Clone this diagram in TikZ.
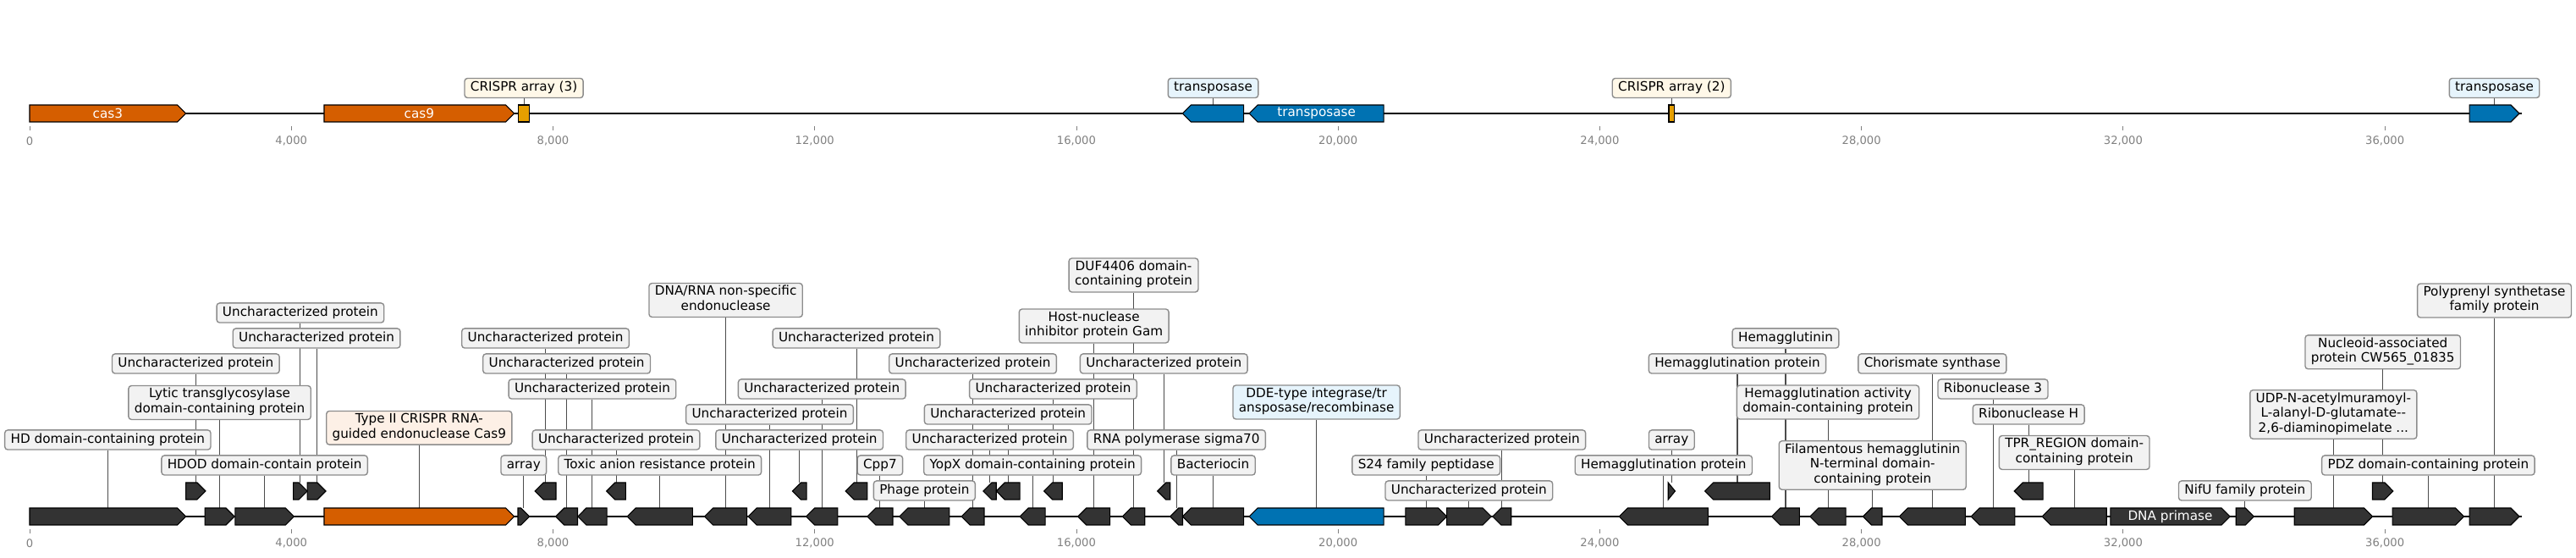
\documentclass[tikz,border=0pt]{standalone}
\usepackage{fontspec}
\setmainfont{DejaVu Sans}
\usetikzlibrary{backgrounds}
\definecolor{genedark}{RGB}{51,51,51}
\definecolor{casorange}{RGB}{213,94,0}
\definecolor{tnpblue}{RGB}{0,114,178}
\definecolor{arraygold}{RGB}{230,159,0}
\definecolor{boxgray}{RGB}{242,242,242}
\definecolor{boxcas}{RGB}{253,240,230}
\definecolor{boxtnp}{RGB}{230,244,252}
\definecolor{boxarray}{RGB}{255,248,232}
\definecolor{boxedge}{RGB}{140,140,140}
\definecolor{tickgray}{RGB}{128,128,128}
\tikzset{
  lbl/.style={rectangle, rounded corners=2.5pt, draw=boxedge, line width=1pt, fill=boxgray,
              font=\fontsize{11}{12.7}\selectfont, align=center, inner xsep=5pt, inner ysep=2pt,
              execute at begin node=\strut, execute at end node=\strut},
  genetext/.style={font=\fontsize{11}{12.7}\selectfont, text=white, inner sep=0pt},
  genebody/.style={draw=black, line width=0.8pt},
  leader/.style={line width=0.75pt, black!70},
  backbone/.style={line width=1.5pt, black},
  tickmark/.style={line width=0.7pt, tickgray},
  ticklbl/.style={font=\fontsize{9.5}{11}\selectfont, text=tickgray, inner sep=0pt},
}

\begin{document}
\begin{tikzpicture}[x=1.9637cm, y={(0cm,-0.254mm)}]
\useasboundingbox (-0.4527,0) rectangle (38.921,659);
% backbones
\draw[backbone] (0,134) -- (38.09,134);
\draw[backbone] (0,610) -- (38.09,610);
% axis ticks
\foreach \t in {0,4,...,36}{
  \draw[tickmark] (\t,149) -- (\t,154);
  \draw[tickmark] (\t,625) -- (\t,630);
  \node[ticklbl] (tt\t) at (\t,166.7) {\ifnum\t=0 0\else\t,000\fi};
  \node[ticklbl] (tb\t) at (\t,641.7) {\ifnum\t=0 0\else\t,000\fi};
}
% genes: name/start/end/strand/y/colour
\foreach \gn/\gs/\ge/\gd/\gy/\gc in {
  t1/0.000/2.389/1/134/casorange, t2/4.501/7.407/1/134/casorange,
  t3/7.470/7.640/0/134/arraygold, t4/17.623/18.557/-1/134/tnpblue,
  t5/18.640/20.698/-1/134/tnpblue, t6/25.054/25.141/0/134/arraygold,
  t7/37.292/38.054/1/134/tnpblue,
  g1/0.000/2.389/1/610/genedark, g2/2.680/3.130/1/610/genedark,
  g3/3.141/4.041/1/610/genedark, g4/4.501/7.407/1/610/casorange,
  g5/7.464/7.639/1/610/genedark, g6/8.042/8.375/-1/610/genedark,
  g7/8.379/8.823/-1/610/genedark, g8/9.133/10.132/-1/610/genedark,
  g9/10.317/10.964/-1/610/genedark, g10/10.983/11.639/-1/610/genedark,
  g11/11.870/12.351/-1/610/genedark, g12/12.804/13.193/-1/610/genedark,
  g13/13.295/14.058/-1/610/genedark, g14/14.243/14.590/-1/610/genedark,
  g15/15.135/15.524/-1/610/genedark, g16/16.023/16.513/-1/610/genedark,
  g17/16.703/17.045/-1/610/genedark, g18/17.433/17.623/-1/610/genedark,
  g19/17.623/18.557/-1/610/genedark, g20/18.640/20.698/-1/610/tnpblue,
  g21/21.031/21.660/1/610/genedark, g22/21.660/22.340/1/610/genedark,
  g23/22.363/22.645/-1/610/genedark, g24/24.296/25.655/-1/610/genedark,
  g25/26.627/27.052/-1/610/genedark, g26/27.214/27.760/-1/610/genedark,
  g27/28.023/28.314/-1/610/genedark, g28/28.578/29.586/-1/610/genedark,
  g29/29.674/30.344/-1/610/genedark, g30/30.760/31.745/-1/610/genedark,
  g31/31.805/33.631/1/610/genedark, g32/33.724/33.998/1/610/genedark,
  g33/34.616/35.810/1/610/genedark, g34/36.116/37.208/1/610/genedark,
  g35/37.292/38.054/1/610/genedark,
  u1/2.389/2.690/1/580/genedark, u2/4.031/4.245/1/580/genedark,
  u3/4.245/4.527/1/580/genedark, u4/7.723/8.046/-1/580/genedark,
  u5/8.818/9.110/-1/580/genedark, u6/11.658/11.875/-1/580/genedark,
  u7/12.471/12.804/-1/580/genedark, u8/14.576/14.775/-1/580/genedark,
  u9/14.775/15.135/-1/580/genedark, u10/15.505/15.783/-1/580/genedark,
  u11/17.239/17.433/-1/580/genedark, u12/25.045/25.151/1/580/genedark,
  u13/25.605/26.599/-1/580/genedark, u14/30.335/30.774/-1/580/genedark,
  u15/35.810/36.126/1/580/genedark}{
  \pgfmathsetmacro{\hd}{min(0.1293,\ge-\gs)}
  \pgfmathsetmacro{\gtail}{\gd==1 ? \gs : \ge}
  \pgfmathsetmacro{\gtip}{\gd==1 ? \ge : \gs}
  \pgfmathsetmacro{\gneck}{\gtip-\gd*\hd}
  \filldraw[genebody, fill=\gc] (\gtail,\gy-10) -- (\gneck,\gy-10) -- (\gtip,\gy)
    -- (\gneck,\gy+10) -- (\gtail,\gy+10) -- cycle;
  \coordinate (\gn) at ({(\gs+\ge)/2},\gy-10);
}
% names written inside genes
\foreach \gn/\gt in {t1/cas3, t2/cas9, t5/transposase, g31/DNA primase}
  \node[genetext] (n\gn) at ([yshift=-10*0.254mm]\gn) {\gt};
% label boxes: gene/y/fill/text
\foreach \gn/\ly/\lf/\lt in {
  t3/104/boxarray/{CRISPR array (3)}, t4/104/boxtnp/{transposase},
  t6/104/boxarray/{CRISPR array (2)}, t7/104/boxtnp/{transposase},
  g1/519.5/boxgray/{HD domain-containing protein},
  g2/475.5/boxgray/{Lytic transglycosylase\\domain-containing protein},
  g3/549.5/boxgray/{HDOD domain-contain protein},
  u1/429.5/boxgray/{Uncharacterized protein},
  u2/369.5/boxgray/{Uncharacterized protein},
  u3/399.5/boxgray/{Uncharacterized protein},
  g4/505.3/boxcas/{Type II CRISPR RNA-\\guided endonuclease Cas9},
  g5/549.5/boxgray/{array},
  u4/399.5/boxgray/{Uncharacterized protein},
  g6/429.5/boxgray/{Uncharacterized protein},
  g7/459.5/boxgray/{Uncharacterized protein},
  u5/519.5/boxgray/{Uncharacterized protein},
  g8/549.5/boxgray/{Toxic anion resistance protein},
  g9/354.5/boxgray/{DNA/RNA non-specific\\endonuclease},
  g10/489.5/boxgray/{Uncharacterized protein},
  u6/519.5/boxgray/{Uncharacterized protein},
  g11/459.5/boxgray/{Uncharacterized protein},
  u7/399.5/boxgray/{Uncharacterized protein},
  g12/549.5/boxgray/{Cpp7},
  g13/579.5/boxgray/{Phage protein},
  g14/429.5/boxgray/{Uncharacterized protein},
  u8/519.5/boxgray/{Uncharacterized protein},
  u9/489.5/boxgray/{Uncharacterized protein},
  g15/549.5/boxgray/{YopX domain-containing protein},
  u10/459.5/boxgray/{Uncharacterized protein},
  g16/385/boxgray/{Host-nuclease\\inhibitor protein Gam},
  g17/325/boxgray/{DUF4406 domain-\\containing protein},
  u11/429.5/boxgray/{Uncharacterized protein},
  g18/519.5/boxgray/{RNA polymerase sigma70},
  g19/549.5/boxgray/{Bacteriocin},
  g20/475/boxtnp/{DDE-type integrase/tr\\ansposase/recombinase},
  g21/549.5/boxgray/{S24 family peptidase},
  g22/579.5/boxgray/{Uncharacterized protein},
  g23/519.5/boxgray/{Uncharacterized protein},
  g24/549.5/boxgray/{Hemagglutination protein},
  u12/519.5/boxgray/{array},
  u13/429.5/boxgray/{Hemagglutination protein},
  g25/399.5/boxgray/{Hemagglutinin},
  g26/475/boxgray/{Hemagglutination activity\\domain-containing protein},
  g27/549.5/boxgray/{Filamentous hemagglutinin\\N-terminal domain-\\containing protein},
  g28/429.5/boxgray/{Chorismate synthase},
  g29/459.5/boxgray/{Ribonuclease 3},
  u14/489.5/boxgray/{Ribonuclease H},
  g30/534.5/boxgray/{TPR\_REGION domain-\\containing protein},
  g32/579.5/boxgray/{NifU family protein},
  g33/489.5/boxgray/{UDP-N-acetylmuramoyl-\\L-alanyl-D-glutamate-\kern0pt-\\2,6-diaminopimelate ...},
  u15/415.8/boxgray/{Nucleoid-associated\\protein CW565\_01835},
  g34/549.5/boxgray/{PDZ domain-containing protein},
  g35/355/boxgray/{Polyprenyl synthetase\\family protein}}{
  \node[lbl, fill=\lf] (l\gn) at (\gn |- 0,\ly) {\lt};
  \begin{scope}[on background layer]
    \draw[leader] (l\gn.south) -- (\gn);
  \end{scope}
}
\end{tikzpicture}
\end{document}
